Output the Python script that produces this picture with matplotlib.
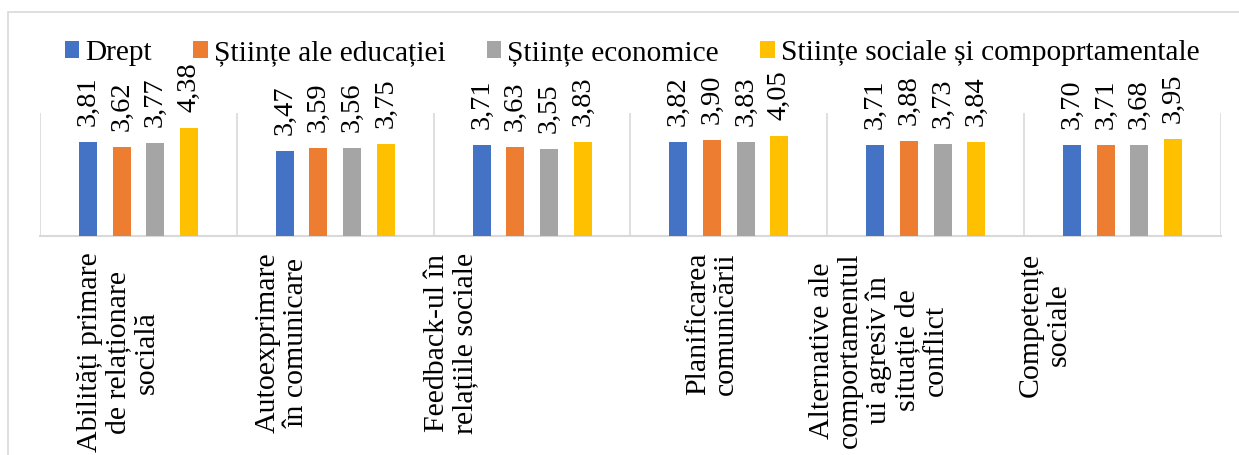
import matplotlib
matplotlib.use("Agg")
import matplotlib.pyplot as plt
import matplotlib.transforms as mtransforms
from matplotlib.patches import Rectangle, Patch
import numpy as np

plt.rcParams['font.family'] = ['Liberation Serif', 'DejaVu Serif']

categories = [
    "Abilități primare\nde relaționare\nsocială",
    "Autoexprimare\nîn comunicare",
    "Feedback-ul în\nrelațiile sociale",
    "Planificarea\ncomunicării",
    "Alternative ale\ncomportamentul\nui agresiv în\nsituație de\nconflict",
    "Competențe\nsociale",
]
series_names = ["Drept", "Științe ale educației", "Științe economice",
                "Stiințe sociale și compoprtamentale"]
drept = [3.81, 3.47, 3.71, 3.82, 3.71, 3.70]
educatie = [3.62, 3.59, 3.63, 3.90, 3.88, 3.71]
economice = [3.77, 3.56, 3.55, 3.83, 3.73, 3.68]
sociale = [4.38, 3.75, 3.83, 4.05, 3.84, 3.95]
series = [drept, educatie, economice, sociale]
colors = ["#4472C4", "#ED7D31", "#A5A5A5", "#FFC000"]

W, H = 1239, 455
fig = plt.figure(figsize=(W / 100, H / 100), dpi=100)
ax = fig.add_axes([40 / W, 1 - 236 / H, (1221 - 40) / W, (236 - 113) / H])

x = np.arange(len(categories))
step = 0.171
bw = 0.0914
for i, (vals, c) in enumerate(zip(series, colors)):
    bars = ax.bar(x + (i - 1.5) * step, vals, width=bw, color=c, zorder=3)
    ax.bar_label(bars, labels=[f"{v:.2f}".replace('.', ',') for v in vals],
                 rotation=90, padding=11.5, fontsize=20.5, color='black')

ax.set_xlim(-0.5, len(categories) - 0.5)
ax.set_ylim(0, 5)
ax.set_yticks([])
for s in ['top', 'left', 'right']:
    ax.spines[s].set_visible(False)
ax.spines['bottom'].set_color('#d9d9d9')
ax.spines['bottom'].set_linewidth(1.5)

ax.set_xticks(np.arange(-0.5, len(categories), 1.0), minor=True)
ax.grid(True, which='minor', axis='x', color='#d9d9d9', lw=1.2, zorder=0)
ax.tick_params(axis='x', which='both', length=0)
ax.set_xticks(x)
ax.set_xticklabels(categories, rotation=90, ha='center', va='top',
                   multialignment='center', fontsize=21.5, linespacing=1.12)
ax.tick_params(axis='x', which='major', pad=12)

offsets_px = [-20, -53, -81, -17, -47, -78]
for lab, off in zip(ax.get_xticklabels(), offsets_px):
    lab.set_transform(lab.get_transform() +
                      mtransforms.ScaledTranslation(off / 100, 0, fig.dpi_scale_trans))

handles = [Patch(facecolor=c, edgecolor='none') for c in colors]
fig.legend(handles, series_names, loc='center', bbox_to_anchor=(0.51, 1 - 53 / H),
           ncol=4, frameon=False, fontsize=21.2, handlelength=0.5, handleheight=0.5,
           handletextpad=0.2, columnspacing=1.4, borderaxespad=0)

fig.patches.append(Rectangle((8 / W, -0.2), 1.2, 1 - 12 / H + 0.2,
                             transform=fig.transFigure, fill=False,
                             edgecolor='#d9d9d9', lw=1.2))

fig.savefig("out.png", dpi=100)
